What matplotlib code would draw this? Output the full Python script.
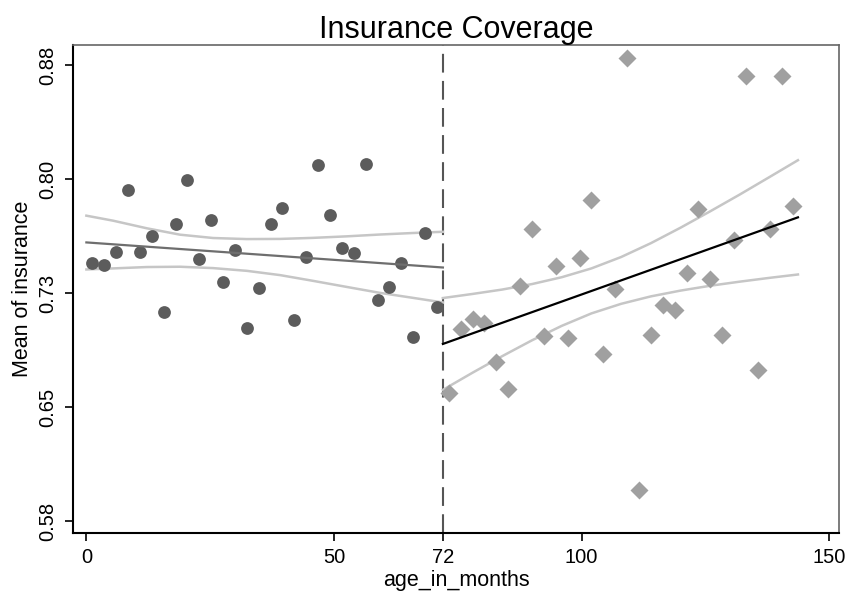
import numpy as np
import matplotlib
matplotlib.use("Agg")
from matplotlib import pyplot as plt

plt.rcParams['font.family'] = ['Liberation Sans', 'DejaVu Sans']

cutoff = 72
bin_width = 2.4

# binned means, left of cutoff (circles) and right of cutoff (diamonds)
left_mean = [0.7447, 0.7436, 0.7522, 0.7930, 0.7522, 0.7627, 0.7125, 0.7704, 0.7993, 0.7478,
             0.7730, 0.7326, 0.7533, 0.7020, 0.7287, 0.7704, 0.7813, 0.7072, 0.7491, 0.8096,
             0.7765, 0.7550, 0.7513, 0.8101, 0.7208, 0.7293, 0.7451, 0.6964, 0.7645, 0.7158]
right_mean = [0.6596, 0.7017, 0.7083, 0.7057, 0.6800, 0.6618, 0.7298, 0.7671, 0.6969, 0.7430,
              0.6958, 0.7480, 0.7864, 0.6849, 0.7280, 0.8796, 0.5956, 0.6976, 0.7173, 0.7140,
              0.7386, 0.7803, 0.7342, 0.6976, 0.7601, 0.8680, 0.6745, 0.7671, 0.8680, 0.7826]

# linear fits (start / end)
left_fit_x = [0, 72]
left_fit_y = [0.7585, 0.7420]
right_fit_x = [72, 143.7]
right_fit_y = [0.6917, 0.7750]

# confidence bands
left_ci_x = [0, 5.4, 12.2, 18.9, 25.6, 32.4, 39.1, 45.8, 52.6, 59.3, 66.0, 72]
left_ci_hi = [0.7761, 0.7728, 0.7678, 0.7636, 0.7614, 0.7607, 0.7608, 0.7615, 0.7625, 0.7637, 0.7647, 0.7655]
left_ci_lo = [0.7407, 0.7414, 0.7423, 0.7425, 0.7416, 0.7398, 0.7370, 0.7332, 0.7292, 0.7253, 0.7220, 0.7190]
right_ci_x = [72, 78, 84, 90, 96, 102, 108, 114, 120, 126, 132, 138, 143.7]
right_ci_hi = [0.7219, 0.7246, 0.7275, 0.7311, 0.7356, 0.7414, 0.7489, 0.7580, 0.7682,
               0.7790, 0.7901, 0.8016, 0.8126]
right_ci_lo = [0.6615, 0.6728, 0.6837, 0.6941, 0.7036, 0.7118, 0.7181, 0.7230, 0.7268,
               0.7300, 0.7327, 0.7352, 0.7374]

x_ticks = [0, 50, 72, 100, 150]
y_ticks = [0.575, 0.65, 0.725, 0.80, 0.875]
y_labels = ['0.58', '0.65', '0.73', '0.80', '0.88']

left_x = bin_width / 2 + bin_width * np.arange(len(left_mean))
right_x = cutoff + bin_width / 2 + bin_width * np.arange(len(right_mean))

fig = plt.figure(figsize=(8.47, 5.96), dpi=100)
ax = fig.add_axes([0.0862, 0.1057, 0.9044, 0.8188])

band = '#c6c6c6'
for xs, ys in [(left_ci_x, left_ci_hi), (left_ci_x, left_ci_lo),
               (right_ci_x, right_ci_hi), (right_ci_x, right_ci_lo)]:
    ax.plot(xs, ys, color=band, lw=1.8, zorder=2, solid_joinstyle='round')

ax.plot(left_x, left_mean, 'o', ms=9.2, color='#5c5c5c', mec='none', zorder=3)
ax.plot(right_x, right_mean, 'D', ms=9, color='#a0a0a0', mec='none', zorder=3)

ax.plot(left_fit_x, left_fit_y, color='#6e6e6e', lw=1.6, zorder=4)
ax.plot(right_fit_x, right_fit_y, color='black', lw=1.6, zorder=4)

ax.axvline(cutoff, color='#555555', lw=1.5, dashes=(9, 4), zorder=1)

ax.set_xlim(-2.7, 152)
ax.set_ylim(0.5673, 0.8884)
ax.set_xticks(x_ticks)
ax.set_yticks(y_ticks)
ax.set_yticklabels(y_labels, rotation=90, va='center')
ax.tick_params(axis='both', labelsize=14.5, length=6, width=1.2, direction='out',
               color='black', pad=5)

for side in ['left', 'bottom']:
    ax.spines[side].set_color('black')
    ax.spines[side].set_linewidth(1.5)
for side in ['top', 'right']:
    ax.spines[side].set_color('#666666')
    ax.spines[side].set_linewidth(1.2)

ax.set_title('Insurance Coverage', fontsize=22, pad=5)
ax.set_xlabel('age_in_months', fontsize=15.5, labelpad=2)
ax.set_ylabel('Mean of insurance', fontsize=15.5, labelpad=4)

fig.savefig('out.png', dpi=100)
